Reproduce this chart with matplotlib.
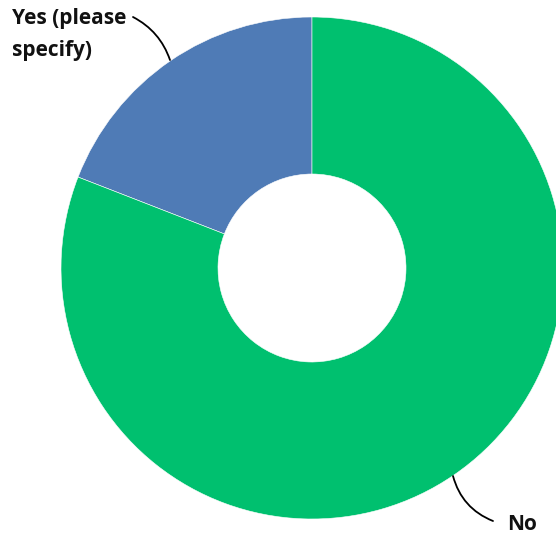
import matplotlib
matplotlib.use("Agg")
import matplotlib.pyplot as plt

categories = ["Yes (please\nspecify)", "No"]
values = [19.1, 80.9]
colors = ["#4f7bb6", "#00c06f"]

W, H = 556, 538
fig = plt.figure(figsize=(W / 100, H / 100), dpi=100)
ax = fig.add_axes([0, 0, 1, 1])

cx, cy, R = 312, H - 268, 251
wedges, _ = ax.pie(values, colors=colors, startangle=90, counterclock=True,
                   center=(cx, cy), radius=R, frame=True,
                   wedgeprops=dict(width=R - 94, edgecolor="white", linewidth=0.4))
ax.set_xlim(0, W)
ax.set_ylim(0, H)
ax.axis("off")

font = dict(family=["Open Sans", "DejaVu Sans"], fontweight="bold", fontsize=15, color="#111111")

ax.text(12, H - 8, categories[0], ha="left", va="top", linespacing=1.7, **font)
ax.annotate("", xy=(170, H - 60), xytext=(133, H - 17),
            arrowprops=dict(arrowstyle="-", color="black", lw=1.3, shrinkA=0, shrinkB=0,
                            connectionstyle="arc3,rad=-0.2"))

ax.text(507, H - 524, categories[1], ha="left", va="center", **font)
ax.annotate("", xy=(453, H - 476), xytext=(493, H - 521),
            arrowprops=dict(arrowstyle="-", color="black", lw=1.3, shrinkA=0, shrinkB=0,
                            connectionstyle="arc3,rad=-0.25"))

fig.savefig("out.png", dpi=100)
